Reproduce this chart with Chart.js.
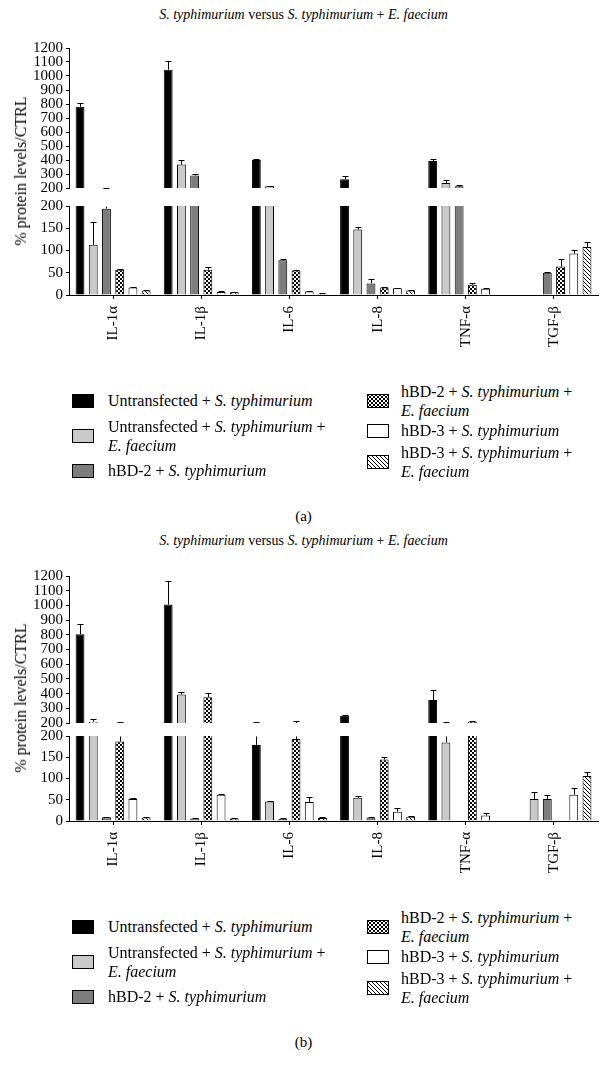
<!DOCTYPE html>
<html><head><meta charset="utf-8">
<script src="https://cdn.jsdelivr.net/npm/chart.js@4.4.0/dist/chart.umd.min.js"></script>
<style>
html,body{margin:0;padding:0;background:#fff;}
#root{position:relative;width:607px;height:1073px;overflow:hidden;font-family:'Liberation Serif','DejaVu Serif',serif;color:#000;background:#fff;}
#root > canvas{position:absolute;left:0;}
.title{position:absolute;left:0;width:607px;text-align:center;font-size:14px;line-height:16px;white-space:nowrap;}
.ytitle{position:absolute;font-size:16px;line-height:18px;white-space:nowrap;transform:translate(-50%,-50%) rotate(-90deg);}
.leg{position:absolute;display:flex;align-items:center;font-size:16px;line-height:19px;white-space:nowrap;}
.leg canvas{display:block;}
.cap{position:absolute;left:0;width:607px;text-align:center;font-size:15px;line-height:18px;}
</style></head>
<body>
<div id="root"></div>
<script>
const FONT = "'Liberation Serif','DejaVu Serif',serif";
const BREAK = 200;

const categories = ['IL-1α', 'IL-1β', 'IL-6', 'IL-8', 'TNF-α', 'TGF-β'];
const seriesLabels = [
  'Untransfected + <i>S. typhimurium</i>',
  'Untransfected + <i>S. typhimurium</i> +<br><i>E. faecium</i>',
  'hBD-2 + <i>S. typhimurium</i>',
  'hBD-2 + <i>S. typhimurium</i> +<br><i>E. faecium</i>',
  'hBD-3 + <i>S. typhimurium</i>',
  'hBD-3 + <i>S. typhimurium</i> +<br><i>E. faecium</i>'
];
const panelTitle = '<i>S. typhimurium</i> versus <i>S. typhimurium</i> + <i>E. faecium</i>';
const yAxisTitle = '% protein levels/CTRL';
const upperTicks = [200, 1200, 100];   // min, max, step
const lowerTicks = [0, 200, 50];

// Panel (a)
const a_untST       = [780, 1045, 400, 262, 392, null];
const a_untST_err   = [25, 65, 5, 25, 18, null];
const a_untSTEF     = [113, 367, 212, 147, 235, null];
const a_untSTEF_err = [52, 32, 4, 5, 22, null];
const a_hbd2ST      = [194, 290, 78, 26, 212, 50];
const a_hbd2ST_err  = [8, 8, 2, 10, 8, 2];
const a_hbd2STEF    = [57, 57, 55, 17, 23, 64];
const a_hbd2STEF_err= [2, 6, 2, 2, 5, 16];
const a_hbd3ST      = [17, 7, 8, 15, 14, 93];
const a_hbd3ST_err  = [2, 1, 1, 1, 1, 9];
const a_hbd3STEF    = [10, 6, 3, 10, null, 108];
const a_hbd3STEF_err= [1, 1, 1, 1, null, 10];

// Panel (b)
const b_untST       = [803, 1006, 179, 250, 356, null];
const b_untST_err   = [70, 160, 29, 7, 66, null];
const b_untSTEF     = [209, 394, 46, 55, 185, 52];
const b_untSTEF_err = [21, 17, 2, 4, 24, 16];
const b_hbd2ST      = [9, 6, 5, 8, 1, 52];
const b_hbd2ST_err  = [1, 1, 1, 1, 0, 9];
const b_hbd2STEF    = [187, 376, 193, 145, 206, null];
const b_hbd2STEF_err= [21, 29, 24, 5, 7, null];
const b_hbd3ST      = [52, 62, 45, 22, 13, 62];
const b_hbd3ST_err  = [3, 2, 11, 9, 6, 16];
const b_hbd3STEF    = [8, 6, 7, 10, 1, 106];
const b_hbd3STEF_err= [1, 1, 3, 1, 0, 9];

// ---- fills ----
function makePattern(kind) {
  const t = document.createElement('canvas');
  t.width = 4; t.height = 4;
  const c = t.getContext('2d');
  c.fillStyle = '#fff'; c.fillRect(0, 0, 4, 4);
  if (kind === 'checker') {
    c.fillStyle = '#000';
    c.fillRect(0, 0, 2, 2); c.fillRect(2, 2, 2, 2);
  } else {
    c.strokeStyle = '#000'; c.lineWidth = 1;
    c.beginPath();
    c.moveTo(-1, -1); c.lineTo(5, 5);
    c.moveTo(3, -1); c.lineTo(5, 1);
    c.moveTo(-1, 3); c.lineTo(1, 5);
    c.stroke();
  }
  return c.createPattern(t, 'repeat');
}
const fills = ['#000000', '#c9c9c9', '#7d7d7d', makePattern('checker'), '#ffffff', makePattern('hatch')];

const root = document.getElementById('root');

function addCanvas(top, height) {
  const cv = document.createElement('canvas');
  cv.width = 607; cv.height = height;
  cv.style.top = top + 'px';
  cv.style.width = '607px'; cv.style.height = height + 'px';
  root.appendChild(cv);
  return cv;
}

function buildChart(cv, upper, vals, errs) {
  const ticks = upper ? upperTicks : lowerTicks;
  const datasets = vals.map((arr, i) => ({
    label: 'S' + i,
    data: upper ? arr.map(v => (v != null && v > BREAK) ? [BREAK, v] : null) : arr,
    backgroundColor: fills[i],
    borderColor: '#000',
    borderWidth: 1,
    borderSkipped: 'start',
    categoryPercentage: 0.9,
    barPercentage: 0.67,
    clip: 0
  }));
  const errPlugin = {
    id: 'errbars',
    afterDatasetsDraw(chart) {
      const ctx = chart.ctx, ys = chart.scales.y;
      ctx.save();
      ctx.strokeStyle = '#000'; ctx.lineWidth = 1;
      vals.forEach((arr, i) => {
        const meta = chart.getDatasetMeta(i);
        arr.forEach((v, j) => {
          const e = errs[i][j];
          if (v == null || e == null || e <= 0) return;
          const top = v + e;
          let from, to, cap = true;
          if (upper) {
            if (top <= BREAK) return;
            from = Math.max(v, BREAK); to = top;
          } else {
            if (v >= BREAK) return;
            from = v; to = Math.min(top, BREAK); cap = top <= BREAK;
          }
          const el = meta.data[j];
          const x = Math.round(el.x) + 0.5;
          const y1 = ys.getPixelForValue(from), y2 = Math.round(ys.getPixelForValue(to)) + 0.5;
          ctx.beginPath(); ctx.moveTo(x, y1); ctx.lineTo(x, y2); ctx.stroke();
          if (cap) { ctx.beginPath(); ctx.moveTo(x - 3, y2); ctx.lineTo(x + 3, y2); ctx.stroke(); }
        });
      });
      ctx.restore();
    }
  };
  return new Chart(cv, {
    type: 'bar',
    data: { labels: categories, datasets },
    options: {
      responsive: false,
      animation: false,
      devicePixelRatio: 1,
      layout: { padding: { top: 10, right: 9, bottom: upper ? 10 : 0, left: 0 } },
      plugins: { legend: { display: false }, tooltip: { enabled: false }, title: { display: false } },
      scales: {
        x: {
          display: !upper,
          grid: { offset: false, drawOnChartArea: false, drawTicks: true, tickLength: 4, color: '#000' },
          border: { display: true, color: '#000', width: 1 },
          ticks: { autoSkip: false, maxRotation: 90, minRotation: 90, padding: 7, color: '#000', font: { family: FONT, size: 15 } },
          afterFit: s => { if (!upper) s.height = 64; }
        },
        y: {
          min: ticks[0], max: ticks[1],
          grid: { drawOnChartArea: false, drawTicks: true, tickLength: 3, color: '#000' },
          border: { display: true, color: '#000', width: 1 },
          ticks: { stepSize: ticks[2], autoSkip: false, padding: 3, color: '#000', font: { family: FONT, size: 15 },
                   callback: v => String(v) },
          afterFit: s => { s.width = 69; }
        }
      }
    },
    plugins: [errPlugin]
  });
}

function swatch(fill) {
  const c = document.createElement('canvas');
  c.width = 22; c.height = 14;
  const x = c.getContext('2d');
  x.fillStyle = fill; x.fillRect(0, 0, 22, 14);
  x.strokeStyle = '#000'; x.lineWidth = 1; x.strokeRect(0.5, 0.5, 21, 13);
  return c;
}

function addText(cls, html, left, top) {
  const d = document.createElement('div');
  d.className = cls; d.innerHTML = html;
  if (left != null) d.style.left = left + 'px';
  d.style.top = top + 'px';
  root.appendChild(d);
  return d;
}

function buildPanel(off, geo, vals, errs, caption) {
  addText('title', panelTitle, null, off + 7);
  const up = addCanvas(off + geo.upTop - 10, 10 + geo.upH + 10);
  const lo = addCanvas(off + geo.loTop - 10, 10 + geo.loH + 64);
  buildChart(up, true, vals, errs);
  buildChart(lo, false, vals, errs);
  addText('ytitle', yAxisTitle, 21, off + (geo.upTop + geo.loTop + geo.loH) / 2);
  const legPos = [[72, 391], [72, 417], [72, 461], [367, 382], [367, 421], [367, 443]];
  legPos.forEach((p, i) => {
    const d = document.createElement('div');
    d.className = 'leg';
    d.style.left = p[0] + 'px'; d.style.top = (off + p[1]) + 'px';
    const sw = swatch(fills[i]);
    sw.style.marginRight = (i < 3 ? 14 : 12) + 'px';
    d.appendChild(sw);
    const t = document.createElement('div');
    t.innerHTML = seriesLabels[i];
    d.appendChild(t);
    root.appendChild(d);
  });
  addText('cap', caption, null, off + 507);
}

buildPanel(0, { upTop: 46, upH: 144, loTop: 204, loH: 91 },
  [a_untST, a_untSTEF, a_hbd2ST, a_hbd2STEF, a_hbd3ST, a_hbd3STEF],
  [a_untST_err, a_untSTEF_err, a_hbd2ST_err, a_hbd2STEF_err, a_hbd3ST_err, a_hbd3STEF_err], '(a)');
buildPanel(526, { upTop: 48, upH: 151, loTop: 208, loH: 87 },
  [b_untST, b_untSTEF, b_hbd2ST, b_hbd2STEF, b_hbd3ST, b_hbd3STEF],
  [b_untST_err, b_untSTEF_err, b_hbd2ST_err, b_hbd2STEF_err, b_hbd3ST_err, b_hbd3STEF_err], '(b)');
</script>
</body></html>
